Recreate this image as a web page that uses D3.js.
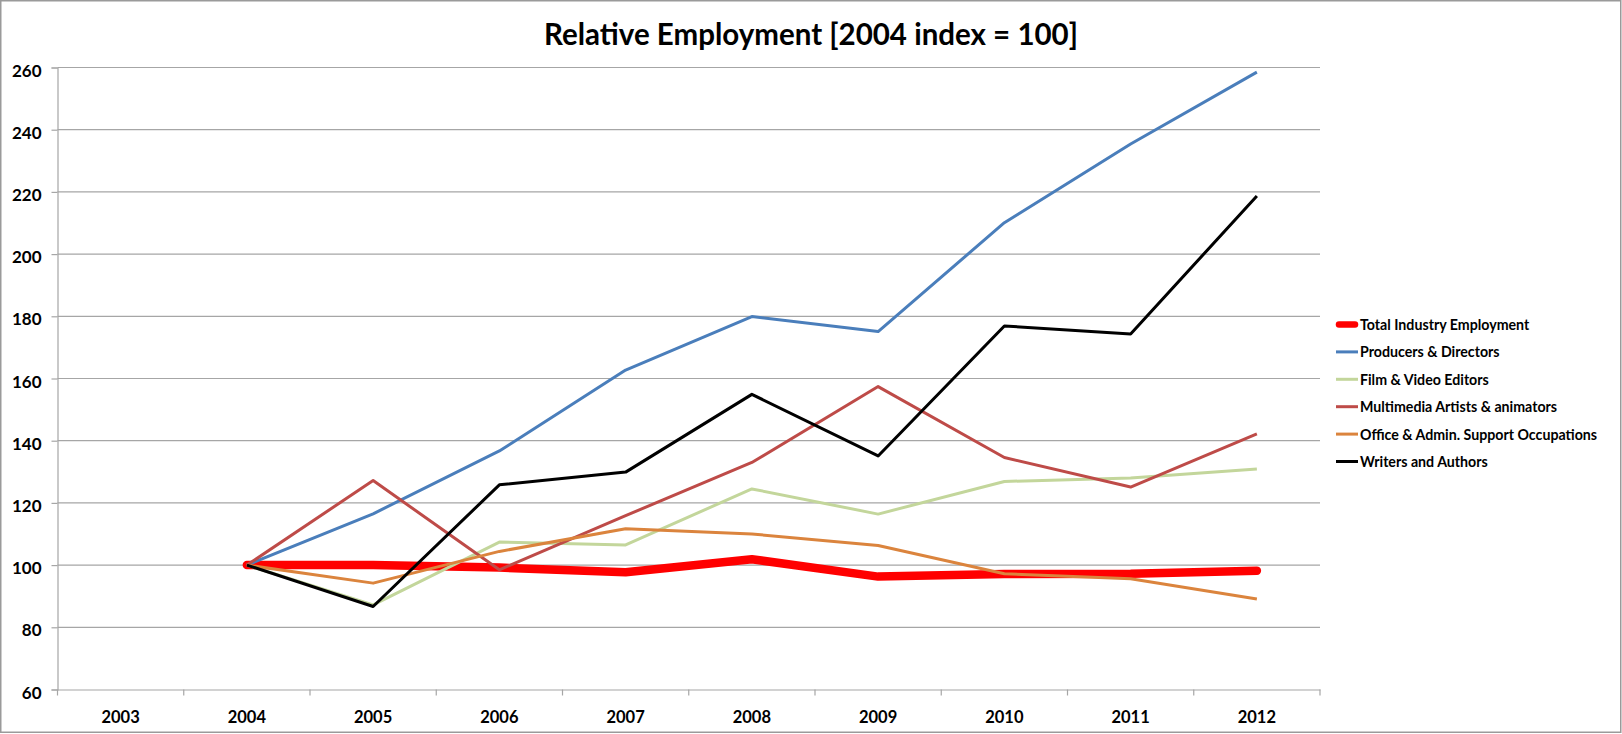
<!DOCTYPE html>
<html>
<head>
<meta charset="utf-8">
<script src="https://cdn.jsdelivr.net/npm/d3@7"></script>
<style>
  html, body { margin: 0; padding: 0; background: #fff; }
  svg { display: block; font-family: Lato, "Open Sans", sans-serif; font-weight: bold; }
</style>
</head>
<body>
<svg id="chart" width="1622" height="734"></svg>
<script>
// ---- data ----
const title = "Relative Employment [2004 index = 100]";
const years = ["2003", "2004", "2005", "2006", "2007", "2008", "2009", "2010", "2011", "2012"];
const yTicks = [60, 80, 100, 120, 140, 160, 180, 200, 220, 240, 260];
const seriesNames = [
  "Total Industry Employment",
  "Producers & Directors",
  "Film & Video Editors",
  "Multimedia Artists & animators",
  "Office & Admin. Support Occupations",
  "Writers and Authors"
];
// values for 2003..2012 (2003 has no data)
const totalIndustry = [null, 100, 100.0, 99.2, 97.7, 101.9, 96.3, 97.1, 97.2, 98.2];
const producers     = [null, 100, 116.5, 136.7, 162.7, 179.9, 175.1, 210.1, 235.4, 258.5];
const filmEditors   = [null, 100, 87.2, 107.4, 106.5, 124.5, 116.4, 126.9, 128.0, 130.9];
const multimedia    = [null, 100, 127.2, 98.5, 115.9, 133.0, 157.4, 134.6, 125.1, 142.2];
const officeAdmin   = [null, 100, 94.2, 104.4, 111.7, 110.0, 106.3, 97.2, 95.6, 89.1];
const writers       = [null, 100, 86.7, 125.8, 129.9, 154.9, 135.1, 176.9, 174.3, 218.7];

const seriesValues = [totalIndustry, producers, filmEditors, multimedia, officeAdmin, writers];
const seriesColors = ["#ff0000", "#4a7ebb", "#c3d69b", "#be4b48", "#db843d", "#000000"];
const seriesWidths = [8.5, 3, 3, 3, 3, 3];

// ---- layout ----
const svg = d3.select("#chart");
const W = 1622, H = 734;
const plot = { left: 57.5, right: 1320, top: 67.5, bottom: 689.5 };
const gridColor = "#a6a6a6";

svg.append("rect")
  .attr("x", 0.75).attr("y", 0.75)
  .attr("width", W - 2).attr("height", H - 2.5)
  .attr("fill", "#fff").attr("stroke", "#9a9a9a").attr("stroke-width", 1.5);

const x = d3.scaleBand().domain(years).range([plot.left, plot.right]).padding(0);
const y = d3.scaleLinear().domain([60, 260]).range([plot.bottom, plot.top]);
const cx = d => x(d) + x.bandwidth() / 2;

// gridlines
svg.append("g").selectAll("line")
  .data(yTicks.filter(t => t !== 60))
  .join("line")
  .attr("x1", plot.left).attr("x2", plot.right)
  .attr("y1", d => y(d)).attr("y2", d => y(d))
  .attr("stroke", gridColor).attr("stroke-width", 1.2);

// y axis
const yAxis = svg.append("g")
  .attr("transform", `translate(${plot.left},0)`)
  .call(d3.axisLeft(y).tickValues(yTicks).tickSize(6).tickPadding(10));
yAxis.select(".domain").attr("stroke", gridColor).attr("stroke-width", 1.2);
yAxis.selectAll(".tick line").attr("stroke", gridColor).attr("stroke-width", 1.2);
yAxis.selectAll(".tick text")
  .attr("font-family", "Lato, sans-serif").attr("font-weight", "bold")
  .attr("font-size", 17).attr("fill", "#000")
  .attr("dy", "0.5em");

// x axis
const xAxis = svg.append("g")
  .attr("transform", `translate(0,${plot.bottom})`)
  .call(d3.axisBottom(x).tickSize(0).tickPadding(0));
xAxis.select(".domain").attr("stroke", gridColor).attr("stroke-width", 1.2);
xAxis.selectAll(".tick text")
  .attr("font-family", "Lato, sans-serif").attr("font-weight", "bold")
  .attr("font-size", 16.5).attr("fill", "#000")
  .attr("y", 33).attr("dy", 0);
// category boundary ticks
const boundaries = years.map(d => x(d)).concat([x(years[years.length - 1]) + x.bandwidth()]);
xAxis.append("g").selectAll("line")
  .data(boundaries)
  .join("line")
  .attr("x1", d => d).attr("x2", d => d)
  .attr("y1", 0).attr("y2", 6)
  .attr("stroke", gridColor).attr("stroke-width", 1.2);

// lines
const line = d3.line()
  .defined(d => d.v !== null)
  .x(d => cx(d.year))
  .y(d => y(d.v));

seriesNames.forEach((name, i) => {
  const data = years.map((yr, j) => ({ year: yr, v: seriesValues[i][j] }));
  svg.append("path")
    .datum(data)
    .attr("d", line)
    .attr("fill", "none")
    .attr("stroke", seriesColors[i])
    .attr("stroke-width", seriesWidths[i])
    .attr("stroke-linejoin", "round")
    .attr("stroke-linecap", i === 0 ? "round" : "butt");
});

// legend
const legend = svg.append("g");
const legendX = 1336, legendY0 = 324.5, legendStep = 27.4;
seriesNames.forEach((name, i) => {
  const gy = legendY0 + i * legendStep;
  legend.append("line")
    .attr("x1", legendX + (i === 0 ? 3 : 0)).attr("x2", legendX + 22 - (i === 0 ? 3 : 0))
    .attr("y1", gy).attr("y2", gy)
    .attr("stroke", seriesColors[i])
    .attr("stroke-width", i === 0 ? 6.5 : 3)
    .attr("stroke-linecap", i === 0 ? "round" : "butt");
  legend.append("text")
    .attr("x", legendX + 24).attr("y", gy + 5.5)
    .attr("font-size", 14.2).attr("fill", "#000")
    .text(name);
});

// title
const t = svg.append("text")
  .attr("x", 811).attr("y", 44.5)
  .attr("text-anchor", "middle")
  .attr("font-size", 30).attr("fill", "#000")
  .text(title);
// scale font so the title spans the same width as in the reference
const tw = t.node().getComputedTextLength();
t.attr("font-size", 30 * 534 / tw);
</script>
</body>
</html>
